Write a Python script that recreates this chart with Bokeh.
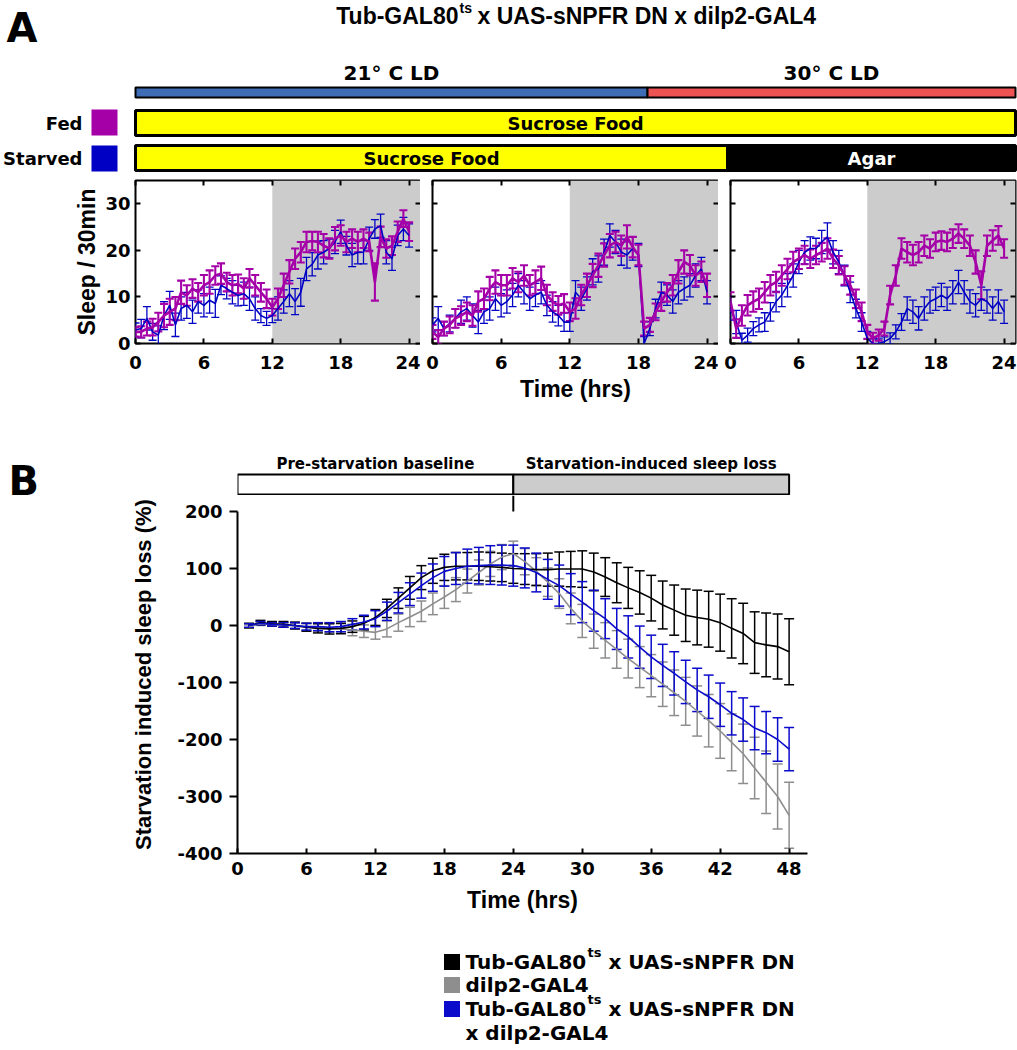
from bokeh.plotting import figure
from bokeh.layouts import column, row
from bokeh.models import Range1d, ColumnDataSource, Whisker, TeeHead, BoxAnnotation, FixedTicker, LinearAxis
from bokeh.core.properties import value
from bokeh.embed import file_html
from bokeh.resources import INLINE

# ---------------- data ----------------
hours_A = [i * 0.5 for i in range(49)]
day_ticks = [0, 6, 12, 18, 24]
sleep_ticks = [0, 10, 20, 30]

fed_day1 = [2.5, 2.5, 3.2, 3.5, 4.6, 6.0, 6.8, 7.5, 11.0, 10.3,
            11.8, 11.0, 12.5, 13.2, 14.6, 15.0, 13.2, 12.5, 12.8, 11.8,
            14.0, 12.5, 11.0, 9.6, 7.8, 9.6, 12.5, 15.4, 18.2, 19.6,
            21.8, 22.0, 21.8, 21.0, 20.4, 22.5, 23.2, 21.8, 22.5, 21.8,
            22.5, 21.8, 13.2, 22.9, 20.4, 21.0, 24.0, 26.8, 24.0]
fed_day1_err = [1.0, 1.2, 1.5, 1.8, 2.0, 2.5, 2.8, 2.5, 2.5, 2.2,
                2.0, 2.0, 2.2, 2.5, 2.0, 2.2, 2.0, 2.2, 2.0, 2.2,
                2.0, 2.2, 2.0, 2.0, 1.8, 2.2, 2.5, 2.5, 2.2, 2.2,
                2.2, 2.0, 2.2, 2.5, 2.2, 2.5, 2.2, 2.2, 2.0, 2.2,
                2.0, 2.0, 4.0, 2.2, 2.0, 2.0, 2.2, 1.8, 2.0]
starved_day1 = [2.9, 3.2, 5.4, 2.5, 1.8, 6.0, 8.2, 4.0, 7.5, 8.2,
                6.8, 9.0, 8.2, 9.3, 8.6, 12.5, 11.8, 11.0, 10.3, 10.7,
                9.6, 7.5, 6.0, 5.4, 6.0, 7.5, 9.0, 10.7, 9.0, 11.0,
                16.0, 17.0, 19.0, 19.6, 20.4, 21.8, 24.0, 21.0, 19.0, 19.6,
                19.6, 22.5, 24.6, 25.3, 19.6, 18.2, 23.2, 24.6, 23.2]
starved_day1_err = [1.5, 2.0, 2.5, 1.8, 2.0, 3.0, 3.0, 2.5, 2.5, 2.8,
                    2.5, 2.5, 2.5, 2.8, 3.0, 2.0, 2.2, 2.5, 2.2, 2.5,
                    2.5, 2.5, 1.5, 1.5, 1.5, 2.5, 2.5, 2.8, 2.8, 3.0,
                    2.5, 2.5, 3.0, 2.5, 2.0, 2.5, 2.5, 2.0, 2.5, 2.5,
                    2.5, 2.5, 2.0, 2.5, 2.5, 2.5, 2.2, 2.5, 2.5]

fed_day2 = [2.5, 1.4, 3.2, 4.0, 5.4, 6.0, 6.8, 6.0, 9.0, 9.6,
            11.8, 13.2, 12.5, 12.5, 14.0, 13.2, 14.6, 12.5, 13.2, 14.0,
            10.4, 9.0, 8.2, 8.6, 6.8, 7.5, 10.4, 12.5, 14.6, 16.8,
            19.0, 21.0, 21.8, 21.0, 22.9, 20.7, 19.0, 3.2, 4.0, 6.8,
            9.0, 11.0, 12.5, 15.4, 17.5, 16.8, 14.6, 15.4, 12.5]
fed_day2_err = [1.5, 1.5, 1.5, 1.8, 2.0, 2.0, 2.0, 2.2, 2.2, 2.2,
                2.5, 2.5, 2.2, 2.2, 2.2, 2.2, 2.2, 2.2, 2.5, 2.5,
                2.2, 2.0, 2.0, 2.0, 2.0, 2.2, 2.2, 2.5, 2.5, 2.5,
                2.5, 2.5, 2.2, 2.2, 2.5, 2.2, 2.2, 1.5, 1.5, 1.8,
                2.0, 2.0, 2.2, 2.5, 2.5, 2.2, 2.2, 2.2, 2.5]
starved_day2 = [4.0, 5.4, 3.2, 4.3, 5.4, 6.8, 7.5, 6.0, 4.6, 6.8,
                7.5, 9.6, 8.2, 9.0, 10.4, 12.5, 11.0, 9.6, 10.4, 11.0,
                8.2, 6.8, 6.0, 4.6, 4.6, 11.0, 9.6, 11.8, 15.4, 16.0,
                19.6, 23.2, 21.8, 19.6, 19.0, 20.4, 19.0, 0.0, 3.2, 7.5,
                11.0, 10.4, 9.0, 11.0, 11.8, 12.5, 14.6, 16.0, 11.0]
starved_day2_err = [1.5, 2.5, 1.5, 1.8, 2.0, 2.5, 2.5, 2.5, 2.5, 2.5,
                    2.5, 2.5, 2.5, 2.5, 2.5, 2.5, 2.5, 2.5, 2.5, 2.5,
                    2.2, 2.2, 2.2, 2.0, 2.0, 2.5, 2.5, 2.5, 2.8, 2.8,
                    2.8, 2.5, 2.5, 2.8, 2.8, 2.5, 2.5, 1.5, 1.5, 2.0,
                    2.2, 2.2, 2.5, 2.5, 2.5, 2.5, 2.5, 2.5, 2.5]

fed_day3 = [9.0, 3.2, 6.0, 8.2, 9.0, 9.6, 11.0, 12.5, 13.2, 14.6,
            16.0, 17.5, 18.2, 19.0, 18.2, 19.0, 19.6, 20.4, 18.2, 16.8,
            14.6, 12.5, 9.6, 6.8, 2.5, 1.1, 1.8, 3.2, 10.4, 14.6,
            20.4, 19.6, 19.0, 19.6, 21.0, 20.4, 21.8, 22.1, 21.8, 22.5,
            23.6, 22.5, 21.0, 17.5, 12.5, 21.0, 22.1, 23.2, 20.4]
fed_day3_err = [2.0, 2.0, 2.2, 2.2, 2.2, 2.2, 2.2, 2.2, 2.2, 2.2,
                2.2, 2.2, 2.2, 2.0, 2.0, 2.0, 2.0, 2.2, 2.0, 2.0,
                2.0, 2.0, 2.0, 2.0, 1.5, 1.2, 1.2, 1.5, 2.0, 2.2,
                2.2, 2.2, 2.2, 2.2, 2.2, 2.0, 2.0, 2.0, 2.0, 2.0,
                2.0, 2.0, 2.2, 2.5, 3.0, 2.2, 2.2, 2.0, 2.0]
starved_day3 = [7.5, 4.6, 0.7, 1.8, 3.2, 4.0, 4.6, 6.8, 9.0, 10.4,
                12.5, 14.6, 17.5, 19.6, 20.4, 20.4, 21.8, 22.9, 19.6, 17.5,
                14.6, 11.0, 7.5, 4.6, 1.1, 0.0, 0.0, 0.4, 1.1, 2.5,
                4.6, 7.5, 6.8, 5.4, 7.5, 9.0, 9.6, 10.4, 9.6, 11.0,
                13.2, 11.0, 9.0, 8.2, 9.6, 9.0, 7.5, 9.0, 6.8]
starved_day3_err = [2.5, 2.5, 1.5, 1.5, 1.5, 1.5, 2.0, 2.0, 2.2, 2.5,
                    2.5, 2.5, 2.5, 2.5, 2.5, 2.2, 2.5, 3.0, 2.5, 2.5,
                    2.2, 2.2, 2.0, 2.0, 1.5, 1.0, 1.0, 1.0, 1.2, 1.5,
                    1.8, 2.5, 2.5, 2.5, 2.5, 2.5, 2.5, 2.5, 2.5, 2.5,
                    2.5, 2.5, 2.5, 2.5, 2.5, 2.5, 2.5, 2.5, 2.5]

hours_B = list(range(1, 49))
hours_B_ticks = [0, 6, 12, 18, 24, 30, 36, 42, 48]
loss_ticks = [-400, -300, -200, -100, 0, 100, 200]

ctrl_uas = [0, 5, 3, 2, 0, -3, -5, -6, -5, -2,
            4, 14, 30, 48, 66, 84, 96, 102, 104, 104,
            104, 103, 102, 100,
            99, 98, 98, 99, 99, 99, 94, 85, 75, 66,
            58, 48, 36, 27, 18, 14, 11, 5, -5, -14,
            -30, -34, -37, -46]
ctrl_uas_err = [4, 4, 4, 5, 6, 7, 8, 9, 9, 10,
                12, 14, 16, 18, 20, 21, 22, 23, 24, 24,
                25, 25, 25, 26,
                27, 28, 29, 30, 31, 32, 33, 34, 35, 36,
                38, 40, 42, 44, 46, 48, 49, 50, 52, 53,
                54, 56, 57, 58]
ctrl_gal4 = [-2, 3, 2, 1, -1, -3, -3, -4, -6, -8,
             -10, -12, -6, 5, 15, 25, 38, 50, 63, 78,
             93, 108, 120, 126,
             112, 95, 76, 56, 30, 8, -10, -26, -42, -58,
             -73, -88, -103, -118, -133, -150, -167, -185, -205, -225,
             -250, -275, -300, -333]
ctrl_gal4_err = [3, 3, 3, 4, 5, 6, 7, 8, 9, 10,
                 11, 12, 14, 15, 17, 18, 19, 20, 21, 21,
                 22, 22, 22, 22,
                 23, 24, 25, 26, 27, 29, 30, 31, 33, 34,
                 36, 37, 39, 40, 42, 44, 46, 48, 50, 52,
                 54, 55, 57, 58]
experimental = [0, 4, 2, 1, 0, -2, -2, -3, -2, 2,
                6, 12, 25, 40, 55, 70, 84, 95, 100, 104,
                105, 106, 106, 105,
                101, 93, 81, 70, 55, 41, 26, 12, -6, -20,
                -38, -55, -70, -84, -99, -113, -125, -139, -154, -165,
                -180, -188, -200, -217]
experimental_err = [3, 3, 3, 4, 5, 6, 7, 8, 9, 10,
                    12, 14, 16, 18, 20, 22, 24, 26, 28, 30,
                    32, 34, 35, 36,
                    35, 34, 35, 36, 36, 36, 36, 35, 36, 37,
                    37, 38, 37, 38, 38, 38, 38, 38, 38, 38,
                    38, 37, 38, 38]

# ---------------- styling ----------------
FED_COLOR = "#A500A8"
STARVED_COLOR = "#0000C4"
SHADE = "#CCCCCC"
B_COLORS = ["#8E8E8E", "#000000", "#0B0BCB"]
DJ = value("DejaVu Sans")
LIB = value("Liberation Sans")
TICK_FONT = "DejaVu Sans"
LABEL_FONT = "Liberation Sans"


def bare(width, height, xr, yr, mbl=0, mbr=0):
    p = figure(width=width, height=height, x_range=xr, y_range=yr,
               x_axis_location=None, y_axis_location=None,
               output_backend="svg", toolbar_location=None,
               min_border_left=mbl, min_border_right=mbr,
               min_border_top=0, min_border_bottom=0)
    p.grid.visible = False
    p.outline_line_color = None
    return p


def txt(p, x, y, s, size, font=DJ, align="left", color="black"):
    p.text(x=[x], y=[y], text=[s], text_font=font, text_font_style="bold",
           text_font_size=size, text_align=align, text_baseline="middle",
           text_color=color)


def style_label(ax, text, size, standoff):
    ax.axis_label = text
    ax.axis_label_text_font = LABEL_FONT
    ax.axis_label_text_font_style = "bold"
    ax.axis_label_text_font_size = size
    ax.axis_label_text_color = "black"
    ax.axis_label_standoff = standoff


# ---------------- panel A header (page pixel coordinates) ----------------
hA = bare(1017, 174, Range1d(0, 1017), Range1d(174, 0))
txt(hA, 6, 27, "A", "40px")
txt(hA, 458, 15, "Tub-GAL80", "23px", font=LIB, align="right")
txt(hA, 459, 7, "ts", "14px", font=LIB)
txt(hA, 477, 15, "x UAS-sNPFR DN x dilp2-GAL4", "23px", font=LIB)

temp_labels = ["21\u00b0 C LD", "30\u00b0 C LD"]
temp_colors = ["#3E6DB5", "#EC5352"]
temp_edges = [135, 647, 1015]
for i in range(2):
    hA.quad(left=temp_edges[i], right=temp_edges[i + 1], top=87, bottom=97,
            fill_color=temp_colors[i], line_color="black", line_width=2)
    txt(hA, (temp_edges[i] + temp_edges[i + 1]) / 2, 72, temp_labels[i], "20px", align="center")

txt(hA, 82, 122.5, "Fed", "18px", align="right")
txt(hA, 82, 158, "Starved", "18px", align="right")
hA.quad(left=91, right=117, top=109, bottom=135, fill_color=FED_COLOR, line_color=None)
hA.quad(left=91, right=117, top=145, bottom=171, fill_color=STARVED_COLOR, line_color=None)

food_rows = [
    (110, 135, [(135, 1015, "#FFFF00", "Sucrose Food", "black")]),
    (145, 170, [(135, 727, "#FFFF00", "Sucrose Food", "black"),
                (727, 1015, "#000000", "Agar", "white")]),
]
for top, bot, segs in food_rows:
    for l, r, col, lab, tcol in segs:
        hA.quad(left=l, right=r, top=top, bottom=bot, fill_color=col,
                line_color="black", line_width=3)
        txt(hA, (l + r) / 2, (top + bot) / 2 + 0.5, lab, "18px", align="center", color=tcol)


# ---------------- panel A subplots ----------------
def tick_style(ax, ticks):
    ax.ticker = FixedTicker(ticks=ticks)
    ax.major_tick_in = 5
    ax.major_tick_out = 0
    ax.major_tick_line_width = 2
    ax.minor_tick_line_color = None
    ax.axis_line_color = None
    ax.major_label_text_font = TICK_FONT
    ax.major_label_text_font_style = "bold"
    ax.major_label_text_font_size = "18px"
    ax.major_label_text_color = "black"


def mirror_axis(ticks):
    ax = LinearAxis()
    tick_style(ax, ticks)
    ax.major_label_overrides = {t: "" for t in ticks}
    ax.major_label_standoff = 0
    ax.major_label_text_font_size = "1px"
    return ax


def sub_panel(fed, fed_err, st, st_err, width, left, right, first, middle):
    p = figure(width=width, height=236, x_range=Range1d(0, 25), y_range=Range1d(0, 35),
               min_border_left=left, min_border_right=right, min_border_top=6,
               min_border_bottom=67, output_backend="svg", toolbar_location=None)
    p.grid.visible = False
    p.outline_line_color = "black"
    p.outline_line_width = 2
    p.add_layout(BoxAnnotation(left=12, fill_color=SHADE, fill_alpha=1.0,
                               line_color=None, level="underlay"))
    for vals, errs, color, lw in [(st, st_err, STARVED_COLOR, 1.6), (fed, fed_err, FED_COLOR, 2.6)]:
        src = ColumnDataSource(dict(t=hours_A, y=vals,
                                    up=[v + e for v, e in zip(vals, errs)],
                                    lo=[v - e for v, e in zip(vals, errs)]))
        p.add_layout(Whisker(source=src, base="t", upper="up", lower="lo",
                             line_color=color, line_width=lw * 0.8,
                             upper_head=TeeHead(size=8, line_color=color, line_width=lw * 0.8),
                             lower_head=TeeHead(size=8, line_color=color, line_width=lw * 0.8)))
        p.line("t", "y", source=src, line_color=color, line_width=lw)

    bottom = p.below[0]
    left_ax = p.left[0]
    tick_style(bottom, day_ticks)
    tick_style(left_ax, sleep_ticks)
    bottom.major_label_standoff = 12
    left_ax.major_label_standoff = 5
    if first:
        style_label(left_ax, "Sleep / 30min", "23px", 2)
    else:
        left_ax.major_label_overrides = {t: "" for t in sleep_ticks}
        left_ax.major_label_standoff = 0
        left_ax.major_label_text_font_size = "1px"
    if middle:
        style_label(bottom, "Time (hrs)", "23px", 4)
    p.add_layout(mirror_axis(day_ticks), "above")
    p.add_layout(mirror_axis(sleep_ticks), "right")
    return p


a1 = sub_panel(fed_day1, fed_day1_err, starved_day1, starved_day1_err, 420, 135, 0, True, False)
a2 = sub_panel(fed_day2, fed_day2_err, starved_day2, starved_day2_err, 298, 12, 0, False, True)
a3 = sub_panel(fed_day3, fed_day3_err, starved_day3, starved_day3_err, 299, 12, 2, False, False)

# ---------------- panel B ----------------
xB = Range1d(0, 49.6)
leftB = bare(108, 509, Range1d(0, 108), Range1d(919, 410))
txt(leftB, 8, 480, "B", "40px")

hB = bare(909, 85, xB, Range1d(495, 410), mbl=129, mbr=210)
phase_labels = ["Pre-starvation baseline", "Starvation-induced sleep loss"]
phase_edges = [0, 24, 48]
phase_fill = ["#FFFFFF", SHADE]
for i in range(2):
    hB.quad(left=phase_edges[i], right=phase_edges[i + 1], top=474, bottom=494,
            fill_color=phase_fill[i], line_color="black", line_width=2)
    txt(hB, (phase_edges[i] + phase_edges[i + 1]) / 2, 463, phase_labels[i], "15px", align="center")
hB.segment(x0=[phase_edges[1]], y0=[494], x1=[phase_edges[1]], y1=[495],
           line_color="black", line_width=2)

pB = figure(width=909, height=424, x_range=xB, y_range=Range1d(-400, 228.07),
            min_border_left=129, min_border_right=210, min_border_top=0,
            min_border_bottom=66, output_backend="svg", toolbar_location=None)
pB.grid.visible = False
pB.outline_line_color = None
pB.segment(x0=[phase_edges[1]], y0=[200], x1=[phase_edges[1]], y1=[228.07],
           line_color="black", line_width=2)

series_B = [(ctrl_gal4, ctrl_gal4_err, B_COLORS[0]),
            (ctrl_uas, ctrl_uas_err, B_COLORS[1]),
            (experimental, experimental_err, B_COLORS[2])]
for vals, errs, color in series_B:
    src = ColumnDataSource(dict(t=hours_B, y=vals,
                                up=[v + e for v, e in zip(vals, errs)],
                                lo=[v - e for v, e in zip(vals, errs)]))
    pB.add_layout(Whisker(source=src, base="t", upper="up", lower="lo",
                          line_color=color, line_width=1.5,
                          upper_head=TeeHead(size=10, line_color=color, line_width=1.5),
                          lower_head=TeeHead(size=10, line_color=color, line_width=1.5)))
    pB.line("t", "y", source=src, line_color=color, line_width=1.6)

ya = pB.yaxis[0]
ya.ticker = FixedTicker(ticks=loss_ticks)
ya.major_label_overrides = {t: str(t) for t in loss_ticks}
ya.bounds = (-400, 200)
ya.major_tick_out = 8
ya.major_tick_in = 0
ya.major_label_standoff = 7
style_label(ya, "Starvation induced sleep loss (%)", "22px", 18)
xa = pB.xaxis[0]
xa.ticker = FixedTicker(ticks=hours_B_ticks)
xa.major_tick_in = 5
xa.major_tick_out = 0
xa.major_label_standoff = 8
style_label(xa, "Time (hrs)", "23px", 9)
for ax in (xa, ya):
    ax.axis_line_width = 2
    ax.major_tick_line_width = 2
    ax.minor_tick_line_color = None
    ax.major_label_text_font = TICK_FONT
    ax.major_label_text_font_style = "bold"
    ax.major_label_text_font_size = "18px"
    ax.major_label_text_color = "black"

# ---------------- legend (page pixel coordinates) ----------------
lg = bare(1017, 129, Range1d(0, 1017), Range1d(1048, 919))
legend_rows = [
    (B_COLORS[1], 961.5, ["Tub-GAL80", "ts", "x UAS-sNPFR DN"]),
    (B_COLORS[0], 984.5, ["dilp2-GAL4"]),
    (B_COLORS[2], 1008.5, ["Tub-GAL80", "ts", "x UAS-sNPFR DN"]),
]
for color, yc, parts in legend_rows:
    lg.scatter(x=[451.5], y=[yc], marker="square", size=16, fill_color=color, line_color=None)
    if len(parts) == 1:
        txt(lg, 465, yc, parts[0], "20px")
    else:
        txt(lg, 465, yc, parts[0], "20px")
        txt(lg, 587, yc - 10, parts[1], "13px")
        txt(lg, 608, yc, parts[2], "20px")
txt(lg, 465, 1032, "x dilp2-GAL4", "20px")

layout = column(hA, row(a1, a2, a3), row(leftB, column(hB, pB)), lg)
open("out.html", "w").write(file_html(layout, INLINE))
